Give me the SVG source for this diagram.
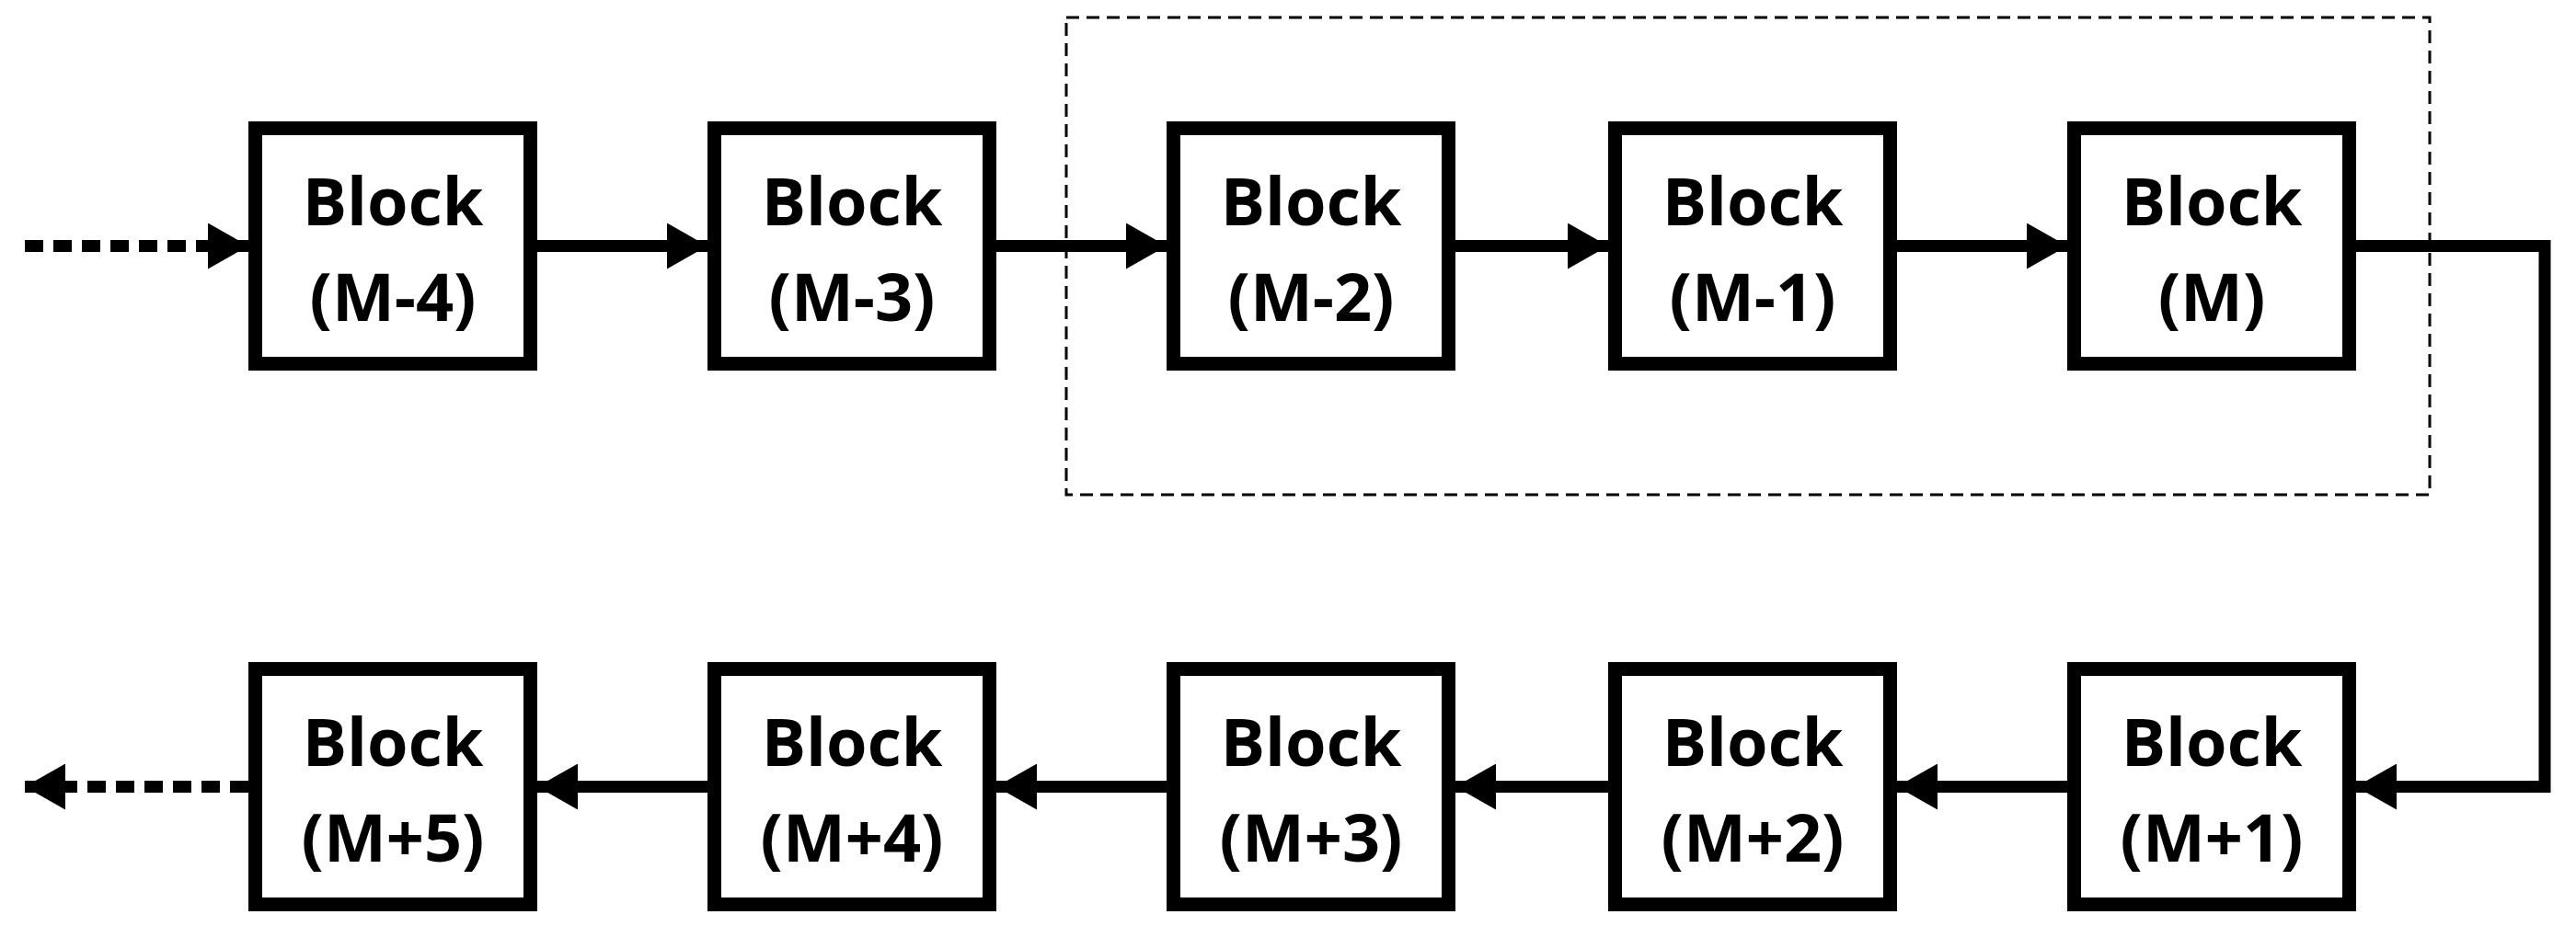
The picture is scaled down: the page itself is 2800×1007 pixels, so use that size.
<svg xmlns="http://www.w3.org/2000/svg" width="2800" height="1007" viewBox="0 0 2800 1007">
<defs>
<style>
.b{fill:#fff;stroke:#000;stroke-width:15}
.t{font-family:"Open Sans","Liberation Sans",sans-serif;font-weight:bold;font-size:72px;text-anchor:middle;fill:#000}
.c{fill:none;stroke:#000;stroke-width:13}
.d{fill:none;stroke:#000;stroke-width:13;stroke-dasharray:20 11}
</style>
<marker id="a" markerUnits="userSpaceOnUse" markerWidth="44" markerHeight="50" refX="44" refY="25" orient="auto"><path d="M0,0L44,25L0,50Z" fill="#000"/></marker>
</defs>
<rect x="1159" y="19" width="1482" height="519" fill="none" stroke="#000" stroke-width="3" stroke-dasharray="14 8"/>
<g id="connectors">
<line class="d" x1="27" y1="267.5" x2="230" y2="267.5"/>
<path d="M228,267.5L270,267.5" class="c" marker-end="url(#a)"/>
<line class="c" x1="584" y1="267.5" x2="769" y2="267.5" marker-end="url(#a)"/>
<line class="c" x1="1083" y1="267.5" x2="1268" y2="267.5" marker-end="url(#a)"/>
<line class="c" x1="1582" y1="267.5" x2="1748" y2="267.5" marker-end="url(#a)"/>
<line class="c" x1="2062" y1="267.5" x2="2247" y2="267.5" marker-end="url(#a)"/>
<polyline class="c" points="2561,267.5 2766,267.5 2766,855.5 2561,855.5" marker-end="url(#a)"/>
<line class="c" x1="2247" y1="855.5" x2="2062" y2="855.5" marker-end="url(#a)"/>
<line class="c" x1="1748" y1="855.5" x2="1582" y2="855.5" marker-end="url(#a)"/>
<line class="c" x1="1268" y1="855.5" x2="1083" y2="855.5" marker-end="url(#a)"/>
<line class="c" x1="769" y1="855.5" x2="584" y2="855.5" marker-end="url(#a)"/>
<line class="d" x1="270" y1="855.5" x2="70" y2="855.5"/>
<path d="M72,855.5L27,855.5" class="c" marker-end="url(#a)"/>
</g>
<g id="m4"><rect class="b" x="277.5" y="139.5" width="299" height="256"/><text class="t" x="427" y="245">Block</text><text class="t" x="427" y="349">(M-4)</text></g>
<g id="m3"><rect class="b" x="776.5" y="139.5" width="299" height="256"/><text class="t" x="926" y="245">Block</text><text class="t" x="926" y="349">(M-3)</text></g>
<g id="m2"><rect class="b" x="1275.5" y="139.5" width="299" height="256"/><text class="t" x="1425" y="245">Block</text><text class="t" x="1425" y="349">(M-2)</text></g>
<g id="m1"><rect class="b" x="1755.5" y="139.5" width="299" height="256"/><text class="t" x="1905" y="245">Block</text><text class="t" x="1905" y="349">(M-1)</text></g>
<g id="m0"><rect class="b" x="2254.5" y="139.5" width="299" height="256"/><text class="t" x="2404" y="245">Block</text><text class="t" x="2404" y="349">(M)</text></g>
<g id="p1"><rect class="b" x="2254.5" y="727.5" width="299" height="256"/><text class="t" x="2404" y="833">Block</text><text class="t" x="2404" y="937">(M+1)</text></g>
<g id="p2"><rect class="b" x="1755.5" y="727.5" width="299" height="256"/><text class="t" x="1905" y="833">Block</text><text class="t" x="1905" y="937">(M+2)</text></g>
<g id="p3"><rect class="b" x="1275.5" y="727.5" width="299" height="256"/><text class="t" x="1425" y="833">Block</text><text class="t" x="1425" y="937">(M+3)</text></g>
<g id="p4"><rect class="b" x="776.5" y="727.5" width="299" height="256"/><text class="t" x="926" y="833">Block</text><text class="t" x="926" y="937">(M+4)</text></g>
<g id="p5"><rect class="b" x="277.5" y="727.5" width="299" height="256"/><text class="t" x="427" y="833">Block</text><text class="t" x="427" y="937">(M+5)</text></g>
</svg>
